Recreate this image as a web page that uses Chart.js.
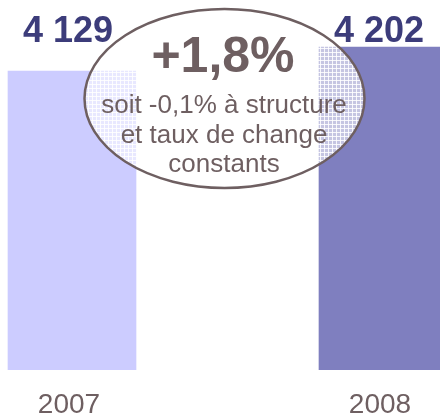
<!DOCTYPE html>
<html>
<head>
<meta charset="utf-8">
<script src="https://cdn.jsdelivr.net/npm/chart.js@4/dist/chart.umd.min.js"></script>
<style>
  html, body { margin: 0; padding: 0; background: #fff; }
  #wrap { width: 440px; height: 417px; }
</style>
</head>
<body>
<div id="wrap"><canvas id="chart" width="440" height="417"></canvas></div>
<script>
// données du graphique
const years = ["2007", "2008"];
const sales = [4129, 4202];
const valueLabels = ["4 129", "4 202"];
const barColors = ["#ccccff", "#7f7fbf"];
const bubbleTitle = "+1,8%";
const bubbleLines = ["soit -0,1% à structure", "et taux de change", "constants"];

const axisMin = 3220;
const axisMax = 4254;

const textColor = "#6e5f61";
const labelColor = "#3c3c7a";

// trame légère de l'ellipse
function makePattern(ctx) {
  const c = document.createElement("canvas");
  c.width = 4; c.height = 4;
  const p = c.getContext("2d");
  p.fillStyle = "rgba(255,255,255,0.55)";
  p.fillRect(0, 0, 4, 4);
  p.fillStyle = "rgba(255,255,255,0.85)";
  p.fillRect(0, 0, 4, 1);
  p.fillRect(0, 0, 1, 4);
  return ctx.createPattern(c, "repeat");
}

const overlay = {
  id: "overlay",
  afterDatasetsDraw(chart) {
    const ctx = chart.ctx;
    const meta = chart.getDatasetMeta(0);

    // valeurs au-dessus des barres
    ctx.save();
    ctx.font = "bold 36px 'Liberation Sans', Arial, sans-serif";
    ctx.fillStyle = labelColor;
    ctx.textAlign = "center";
    ctx.textBaseline = "alphabetic";
    meta.data.forEach((bar, i) => {
      ctx.fillText(valueLabels[i], bar.x - 4, 42);
    });
    ctx.restore();

    // bulle
    ctx.save();
    ctx.beginPath();
    ctx.ellipse(224.5, 98.5, 140, 89.5, 0, 0, Math.PI * 2);
    ctx.fillStyle = makePattern(ctx);
    ctx.fill();
    ctx.lineWidth = 2.5;
    ctx.strokeStyle = textColor;
    ctx.stroke();

    ctx.fillStyle = textColor;
    ctx.textAlign = "center";
    ctx.font = "bold 50px 'Liberation Sans', Arial, sans-serif";
    ctx.fillText(bubbleTitle, 223, 72);
    ctx.font = "26px 'Liberation Sans', Arial, sans-serif";
    bubbleLines.forEach((t, i) => {
      ctx.fillText(t, 224, 113 + i * 29.5);
    });
    ctx.restore();
  }
};

new Chart(document.getElementById("chart"), {
  type: "bar",
  data: {
    labels: years,
    datasets: [{
      data: sales,
      base: axisMin,
      backgroundColor: barColors,
      borderWidth: 0,
      barThickness: 128,
      clip: { left: 80, right: 80, top: 0, bottom: 0 }
    }]
  },
  options: {
    responsive: false,
    animation: false,
    layout: { padding: { left: 72, right: 57, top: 30, bottom: 0 } },
    plugins: { legend: { display: false }, tooltip: { enabled: false } },
    scales: {
      x: {
        offset: false,
        grid: { display: false },
        border: { display: false },
        afterFit(scale) { scale.height = 47; },
        ticks: {
          color: textColor,
          padding: 13,
          labelOffset: -3,
          font: { family: "'Liberation Sans', Arial, sans-serif", size: 28, lineHeight: 1 }
        }
      },
      y: {
        display: false,
        min: axisMin,
        max: axisMax
      }
    }
  },
  plugins: [overlay]
});
</script>
</body>
</html>
